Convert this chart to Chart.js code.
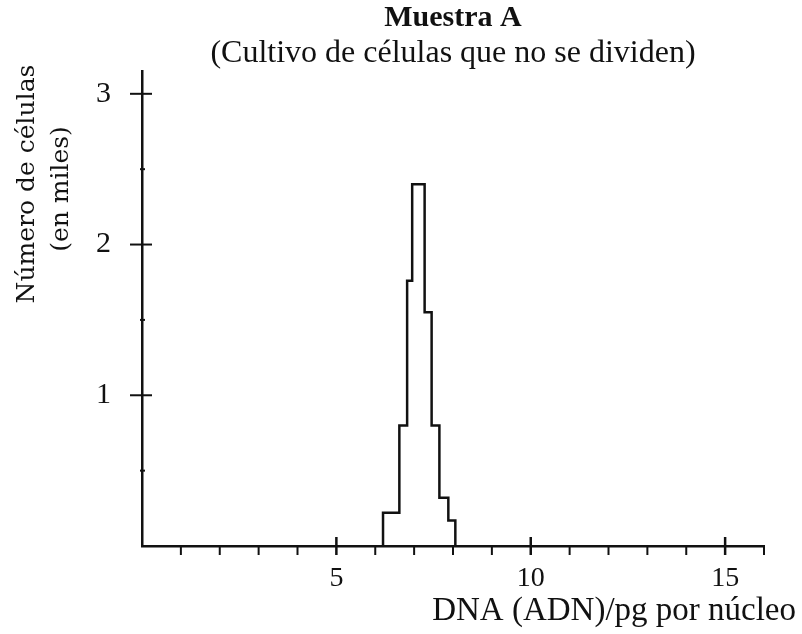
<!DOCTYPE html>
<html>
<head>
<meta charset="utf-8">
<script src="https://cdn.jsdelivr.net/npm/chart.js@4.4.0/dist/chart.umd.min.js"></script>
<style>
  html, body { margin: 0; padding: 0; background: #ffffff; }
  #wrap { width: 802px; height: 634px; position: relative; }
</style>
</head>
<body>
<div id="wrap"><canvas id="c" width="802" height="634"></canvas></div>
<script>
// ---- data ----
const titleText = "Muestra A";
const subtitleText = "(Cultivo de células que no se dividen)";
const xTitle = "DNA (ADN)/pg por núcleo";
const yTitleLines = ["Número de células", "(en miles)"];
const xTickLabels = [5, 10, 15];          // labelled x ticks
const yTickLabels = [1, 2, 3];            // labelled y ticks
const binEdges   = [6.2, 6.62, 6.82, 6.95, 7.27, 7.45, 7.65, 7.88, 8.06]; // DNA pg per nucleus
const binCounts  = [0.22, 0.80, 1.76, 2.40, 1.55, 0.80, 0.32, 0.17];     // thousands of cells

// build stepped outline points from the bins
const outline = [{x: binEdges[0], y: 0}];
for (let i = 0; i < binCounts.length; i++) outline.push({x: binEdges[i], y: binCounts[i]});
outline.push({x: binEdges[binEdges.length - 1], y: 0});

const SERIF = "'Liberation Serif', 'Times New Roman', serif";
const INK = '#111111';

const decorPlugin = {
  id: 'decor',
  afterDraw(chart) {
    const ctx = chart.ctx;
    const xs = chart.scales.x, ys = chart.scales.y;
    const y0 = ys.getPixelForValue(0);
    const x0 = xs.getPixelForValue(0);
    ctx.save();
    ctx.strokeStyle = INK;
    ctx.lineCap = 'butt';
    // x ticks: every unit below axis, labelled ones crossing
    for (let v = 1; v <= 16; v++) {
      const px = xs.getPixelForValue(v);
      const major = xTickLabels.includes(v);
      ctx.lineWidth = major ? 2.5 : 2;
      ctx.beginPath();
      ctx.moveTo(px, major ? y0 - 9 : y0);
      ctx.lineTo(px, y0 + 9);
      ctx.stroke();
    }
    // y ticks: labelled ones crossing, half-units tiny
    for (let v = 0.5; v <= 3; v += 0.5) {
      const py = ys.getPixelForValue(v);
      const major = yTickLabels.includes(v);
      ctx.lineWidth = 2;
      ctx.beginPath();
      if (major) { ctx.moveTo(x0 - 12, py); ctx.lineTo(x0 + 10, py); }
      else { ctx.moveTo(x0 - 2, py); ctx.lineTo(x0 + 3, py); }
      ctx.stroke();
    }
    // axis titles
    ctx.fillStyle = INK;
    ctx.font = "33px " + SERIF;
    ctx.textAlign = 'right';
    ctx.textBaseline = 'middle';
    ctx.fillText(xTitle, 796, 611);
    ctx.font = "25px 'DejaVu Serif', serif";
    ctx.textAlign = 'center';
    ctx.save();
    ctx.translate(27, 184);
    ctx.rotate(-Math.PI / 2);
    ctx.fillText(yTitleLines[0], 0, 0);
    ctx.restore();
    ctx.save();
    ctx.translate(61, 189);
    ctx.rotate(-Math.PI / 2);
    ctx.fillText(yTitleLines[1], 0, 0);
    ctx.restore();
    ctx.restore();
  }
};

new Chart(document.getElementById('c'), {
  type: 'scatter',
  data: {
    datasets: [{
      data: outline,
      showLine: true,
      stepped: 'before',
      borderColor: INK,
      borderWidth: 2.5,
      pointRadius: 0,
      fill: false
    }]
  },
  options: {
    responsive: false,
    animation: false,
    events: [],
    layout: { padding: { left: 0, right: 38, top: 0, bottom: 0 } },
    plugins: {
      legend: { display: false },
      tooltip: { enabled: false },
      title: {
        display: true,
        fullSize: false,
        text: titleText,
        color: INK,
        font: { family: SERIF, size: 30, weight: 'bold', lineHeight: 1.1 },
        padding: { top: 2, bottom: 0 }
      },
      subtitle: {
        display: true,
        fullSize: false,
        text: subtitleText,
        color: INK,
        font: { family: SERIF, size: 32, weight: 'normal', lineHeight: 1.1 },
        padding: { top: 1, bottom: 0 }
      }
    },
    scales: {
      x: {
        type: 'linear',
        min: 0, max: 16,
        grid: { display: false, drawTicks: false },
        border: { display: true, color: INK, width: 2.5 },
        ticks: {
          stepSize: 1,
          autoSkip: false,
          includeBounds: false,
          maxRotation: 0,
          color: INK,
          padding: 16,
          font: { family: SERIF, size: 28 },
          callback: (v) => xTickLabels.includes(v) ? String(v) : ''
        },
        afterFit: (s) => { s.height = 88; }
      },
      y: {
        type: 'linear',
        min: 0, max: 3.15,
        grid: { display: false, drawTicks: false },
        border: { display: true, color: INK, width: 2.5 },
        ticks: {
          stepSize: 0.5,
          autoSkip: false,
          includeBounds: false,
          color: INK,
          padding: 31,
          font: { family: SERIF, size: 30 },
          callback: (v) => yTickLabels.includes(v) ? String(v) : ''
        },
        afterFit: (s) => { s.width = 142; }
      }
    }
  },
  plugins: [decorPlugin]
});
</script>
</body>
</html>
